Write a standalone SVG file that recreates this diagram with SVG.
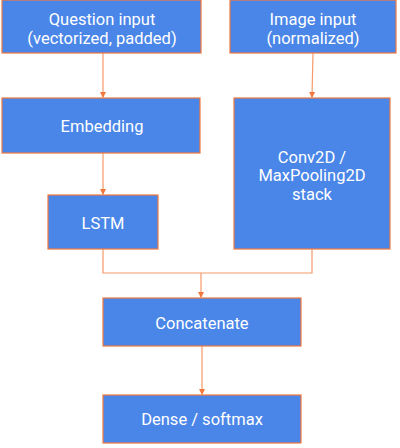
<svg xmlns="http://www.w3.org/2000/svg" width="400" height="448" viewBox="0 0 400 448">
<style>
.box{fill:#4a86e8;stroke:#f4773c;stroke-width:1.2}
.t{fill:#ffffff;font-family:Roboto,"Liberation Sans",sans-serif;font-size:16.5px;text-anchor:middle}
.c{fill:none;stroke:#f79a6a;stroke-width:1.2}
</style>
<defs>
<marker id="ah" markerWidth="8" markerHeight="8" refX="6" refY="4" orient="auto" markerUnits="userSpaceOnUse">
<path d="M1,1 L7,4 L1,7 Z" fill="#f4773c"/>
</marker>
</defs>
<rect width="400" height="448" fill="#ffffff"/>
<g id="connectors">
<path class="c" d="M103,53 L103,97" marker-end="url(#ah)"/>
<path class="c" d="M313,53 L312,97" marker-end="url(#ah)"/>
<path class="c" d="M103,153 L103,194" marker-end="url(#ah)"/>
<path class="c" d="M103,249 L103,273 L312,273 L312,249"/>
<path class="c" d="M201,273 L201,297" marker-end="url(#ah)"/>
<path class="c" d="M202,346 L202,394" marker-end="url(#ah)"/>
</g>
<g id="question">
<rect class="box" x="2" y="0" width="199" height="53"/>
<text class="t" x="102" y="25">Question input</text>
<text class="t" x="102" y="44">(vectorized, padded)</text>
</g>
<g id="image">
<rect class="box" x="230" y="0" width="166" height="53"/>
<text class="t" x="313" y="25">Image input</text>
<text class="t" x="313" y="44">(normalized)</text>
</g>
<g id="embedding">
<rect class="box" x="2" y="98" width="198" height="55"/>
<text class="t" x="102" y="132">Embedding</text>
</g>
<g id="conv">
<rect class="box" x="234" y="98" width="156" height="151"/>
<text class="t" x="312" y="163">Conv2D /</text>
<text class="t" x="312" y="181">MaxPooling2D</text>
<text class="t" x="312" y="200">stack</text>
</g>
<g id="lstm">
<rect class="box" x="48" y="195" width="110" height="54"/>
<text class="t" x="103" y="229">LSTM</text>
</g>
<g id="concat">
<rect class="box" x="103" y="298" width="198" height="48"/>
<text class="t" x="202" y="329">Concatenate</text>
</g>
<g id="dense">
<rect class="box" x="103" y="395" width="198" height="48"/>
<text class="t" x="202" y="425">Dense / softmax</text>
</g>
</svg>
